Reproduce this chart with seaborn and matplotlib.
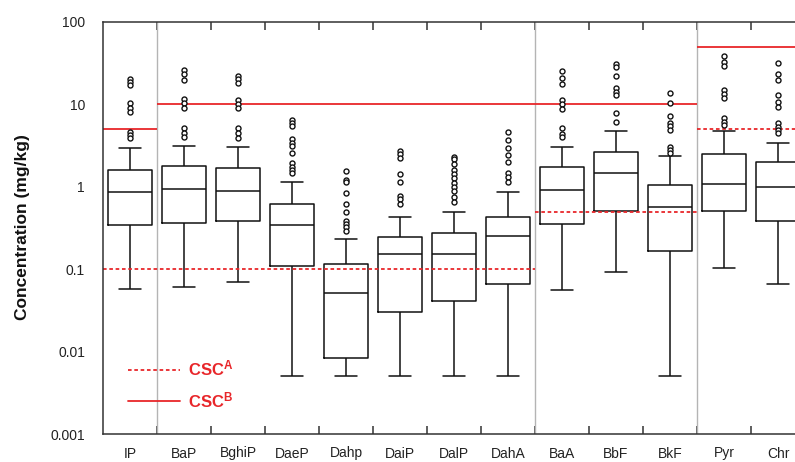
import numpy as np
import pandas as pd
import matplotlib
matplotlib.use("Agg")
import matplotlib.pyplot as plt
from matplotlib.lines import Line2D
from matplotlib.ticker import NullLocator
import seaborn as sns

compounds = ["IP", "BaP", "BghiP", "DaeP", "Dahp", "DaiP", "DalP", "DahA",
             "BaA", "BbF", "BkF", "Pyr", "Chr"]

# five-number summaries (mg/kg)
whisk_lo = [0.058, 0.061, 0.070, 0.005, 0.005, 0.005, 0.005, 0.005, 0.056, 0.093, 0.005, 0.103, 0.066]
q1 = [0.343, 0.364, 0.385, 0.109, 0.0084, 0.030, 0.041, 0.066, 0.354, 0.508, 0.166, 0.508, 0.385]
median = [0.865, 0.94, 0.889, 0.343, 0.051, 0.153, 0.153, 0.253, 0.914, 1.47, 0.569, 1.08, 0.995]
q3 = [1.6, 1.79, 1.69, 0.618, 0.116, 0.246, 0.275, 0.43, 1.74, 2.64, 1.05, 2.5, 2.0]
whisk_hi = [2.96, 3.13, 3.04, 1.14, 0.233, 0.43, 0.494, 0.865, 3.04, 4.75, 2.36, 4.75, 3.39]

outliers = [
    [20.3, 18.7, 17.2, 10.4, 9.0, 8.1, 4.6, 4.3, 3.9],
    [26.1, 23.4, 19.8, 11.6, 10.4, 9.0, 5.2, 4.5, 4.0],
    [22.3, 20.3, 18.2, 11.3, 10.1, 9.0, 5.2, 4.5, 3.9],
    [6.5, 6.0, 5.5, 3.8, 3.4, 3.1, 2.6, 1.95, 1.74, 1.6, 1.47],
    [1.56, 1.21, 1.14, 0.84, 0.62, 0.49, 0.385, 0.354, 0.325, 0.29],
    [2.72, 2.5, 2.24, 1.43, 1.14, 0.77, 0.71, 0.62],
    [2.3, 2.17, 1.89, 1.6, 1.43, 1.28, 1.11, 0.995, 0.889, 0.752, 0.654],
    [4.6, 3.7, 2.96, 2.43, 2.0, 1.47, 1.32, 1.14],
    [25.4, 20.9, 17.7, 11.3, 10.1, 8.8, 5.2, 4.4, 4.0],
    [30.9, 28.4, 22.3, 15.8, 14.1, 13.0, 7.9, 6.1],
    [13.7, 10.4, 7.2, 5.95, 5.5, 4.9, 3.04, 2.8, 2.57],
    [38.7, 32.7, 29.2, 15.0, 13.4, 12.0, 6.8, 6.1, 5.6],
    [31.8, 23.4, 19.8, 13.0, 10.7, 9.3, 5.95, 5.3, 4.9, 4.5],
]

# guideline values per compound
csc_a = [0.1] * 8 + [0.5] * 3 + [5] * 2
csc_b = [5] + [10] * 10 + [50] * 2

ytick_vals = [0.001, 0.01, 0.1, 1, 10, 100]
ytick_labels = ["0.001", "0.01", "0.1", "1", "10", "100"]

sns.set_theme(style="white")
plt.rcParams["font.family"] = ["Liberation Sans", "DejaVu Sans"]
plt.rcParams["mathtext.fontset"] = "custom"
plt.rcParams["mathtext.rm"] = "Liberation Sans"
plt.rcParams["mathtext.bf"] = "Liberation Sans:bold"
plt.rcParams["mathtext.it"] = "Liberation Sans:italic"

RED = "#e8262a"

summary = pd.DataFrame({
    "compound": np.repeat(compounds, 5),
    "value": np.ravel(np.column_stack([whisk_lo, q1, median, q3, whisk_hi])),
})
flier_df = pd.DataFrame({
    "compound": [c for c, o in zip(compounds, outliers) for _ in o],
    "value": [v for o in outliers for v in o],
})

fig = plt.figure(figsize=(7.95, 4.62), dpi=100)
ax = fig.add_axes([103 / 795, 28 / 462, 702 / 795, 412 / 462])
ax.set_yscale("log")

sns.boxplot(data=summary, x="compound", y="value", order=compounds, whis=(0, 100),
            fill=False, color="#111111", linewidth=1.1, width=0.8,
            showfliers=False, ax=ax)
sns.stripplot(data=flier_df, x="compound", y="value", order=compounds, jitter=False,
              color="white", edgecolor="#111111", linewidth=1.0, size=3.6, ax=ax, zorder=4)

# group separators and guideline segments
bounds = [0.5, 7.5, 10.5]
for b in bounds:
    ax.axvline(b, color="#b4b4b4", lw=1.0, zorder=1)
for vals, ls in [(csc_a, (0, (2, 1.5))), (csc_b, "-")]:
    start = 0
    for i in range(1, len(vals) + 1):
        if i == len(vals) or vals[i] != vals[start]:
            ax.hlines(vals[start], start - 0.5, i - 0.5, color=RED, lw=1.3,
                      linestyles=ls, zorder=2)
            start = i

ax.set_xlim(-0.5, len(compounds) - 0.5)
ax.set_ylim(0.001, 100)
ax.set_yticks(ytick_vals, labels=ytick_labels)
ax.yaxis.set_minor_locator(NullLocator())
ax.tick_params(axis="y", length=0, pad=13, labelsize=10, colors="#222222")
ax.set_xticks(np.arange(0.5, len(compounds) - 0.5), minor=True)
ax.tick_params(axis="x", which="major", length=0, pad=9, labelsize=10, colors="#222222")
ax.tick_params(axis="x", which="minor", direction="in", length=6, width=1.1,
               top=True, bottom=True, color="#333333")
ax.set_xlabel("")
ax.set_ylabel("")
for s in ["left", "top", "bottom", "right"]:
    ax.spines[s].set_color("#333333")
    ax.spines[s].set_linewidth(1.1)

fig.text(23 / 795, 1 - 227 / 462, "Concentration (mg/kg)", rotation=90,
         ha="center", va="center", fontsize=12.5, fontweight="bold", color="#111111")

handles = [Line2D([], [], color=RED, lw=1.3, ls=(0, (2, 1.5))),
           Line2D([], [], color=RED, lw=1.3, ls="-")]
ax.legend(handles, [r"$\mathbf{CSC^{A}}$", r"$\mathbf{CSC^{B}}$"],
          loc="lower left", bbox_to_anchor=(0.0356, 0.058), frameon=False,
          borderpad=0, borderaxespad=0, handlelength=3.1, handletextpad=0.5,
          labelspacing=0.7, prop={"size": 12, "weight": "bold"}, labelcolor=RED)

fig.savefig("out.png", dpi=100)
